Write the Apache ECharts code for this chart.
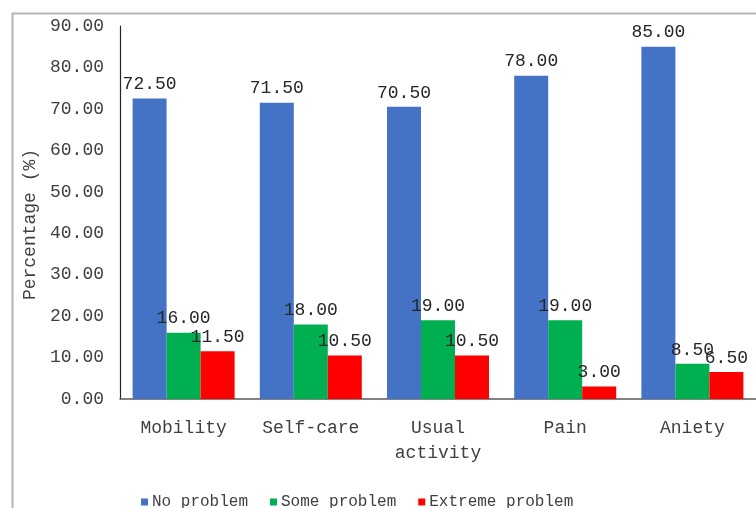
<!DOCTYPE html>
<html>
<head>
<meta charset="utf-8">
<script src="https://cdn.jsdelivr.net/npm/echarts@6/dist/echarts.min.js"></script>
<style>
  html, body { margin: 0; padding: 0; background: #fff; }
  #chart { width: 756px; height: 508px; }
</style>
</head>
<body>
<div id="chart"></div>
<script>
// EQ-5D dimension responses (percentage of respondents)
const categories = ['Mobility', 'Self-care', 'Usual\nactivity', 'Pain', 'Aniety'];
const noProblem = [72.5, 71.5, 70.5, 78.0, 85.0];
const someProblem = [16.0, 18.0, 19.0, 19.0, 8.5];
const extremeProblem = [11.5, 10.5, 10.5, 3.0, 6.5];
const seriesNames = ['No problem', 'Some problem', 'Extreme problem'];
const seriesColors = ['#4472C4', '#00B050', '#FF0000'];

const FONT = '"Liberation Mono", "DejaVu Sans Mono", monospace';

const chart = echarts.init(document.getElementById('chart'));

function barSeries(name, data, color) {
  return {
    name: name,
    type: 'bar',
    data: data,
    barWidth: 34,
    barGap: '0%',
    itemStyle: { color: color },
    label: {
      show: true,
      position: 'top',
      distance: 5,
      fontFamily: FONT,
      fontSize: 18,
      color: '#262626',
      formatter: p => p.value.toFixed(2)
    }
  };
}

chart.setOption({
  backgroundColor: '#ffffff',
  animation: false,
  textStyle: { fontFamily: FONT },
  graphic: [{
    type: 'rect',
    left: 10,
    top: 11,
    shape: { width: 800, height: 600 },
    style: { fill: 'none', stroke: '#b4b4b4', lineWidth: 2 },
    silent: true,
    z: -1
  }],
  grid: { left: 120, top: 26, width: 640, bottom: 109 },
  legend: {
    data: seriesNames,
    left: 136,
    top: 489,
    itemWidth: 7,
    itemHeight: 7,
    itemGap: 22,
    icon: 'rect',
    textStyle: { fontFamily: FONT, fontSize: 16, color: '#404040', padding: [0, 0, 0, -1] }
  },
  xAxis: {
    type: 'category',
    data: categories,
    axisLine: { lineStyle: { color: '#595959', width: 1.5 } },
    axisTick: { show: false },
    axisLabel: {
      fontFamily: FONT,
      fontSize: 18,
      color: '#404040',
      margin: 17,
      lineHeight: 25,
      interval: 0
    }
  },
  yAxis: {
    type: 'value',
    min: 0,
    max: 90,
    interval: 10,
    name: 'Percentage (%)',
    nameLocation: 'middle',
    nameGap: 80,
    nameTextStyle: { fontFamily: FONT, fontSize: 18, color: '#404040', padding: [0, 24, 0, 0] },
    axisLine: { show: true, lineStyle: { color: '#262626', width: 1.2 } },
    axisTick: { show: false },
    splitLine: { show: false },
    axisLabel: {
      fontFamily: FONT,
      fontSize: 18,
      color: '#404040',
      margin: 16,
      formatter: v => v.toFixed(2)
    }
  },
  series: [
    barSeries(seriesNames[0], noProblem, seriesColors[0]),
    barSeries(seriesNames[1], someProblem, seriesColors[1]),
    barSeries(seriesNames[2], extremeProblem, seriesColors[2])
  ]
});
</script>
</body>
</html>
